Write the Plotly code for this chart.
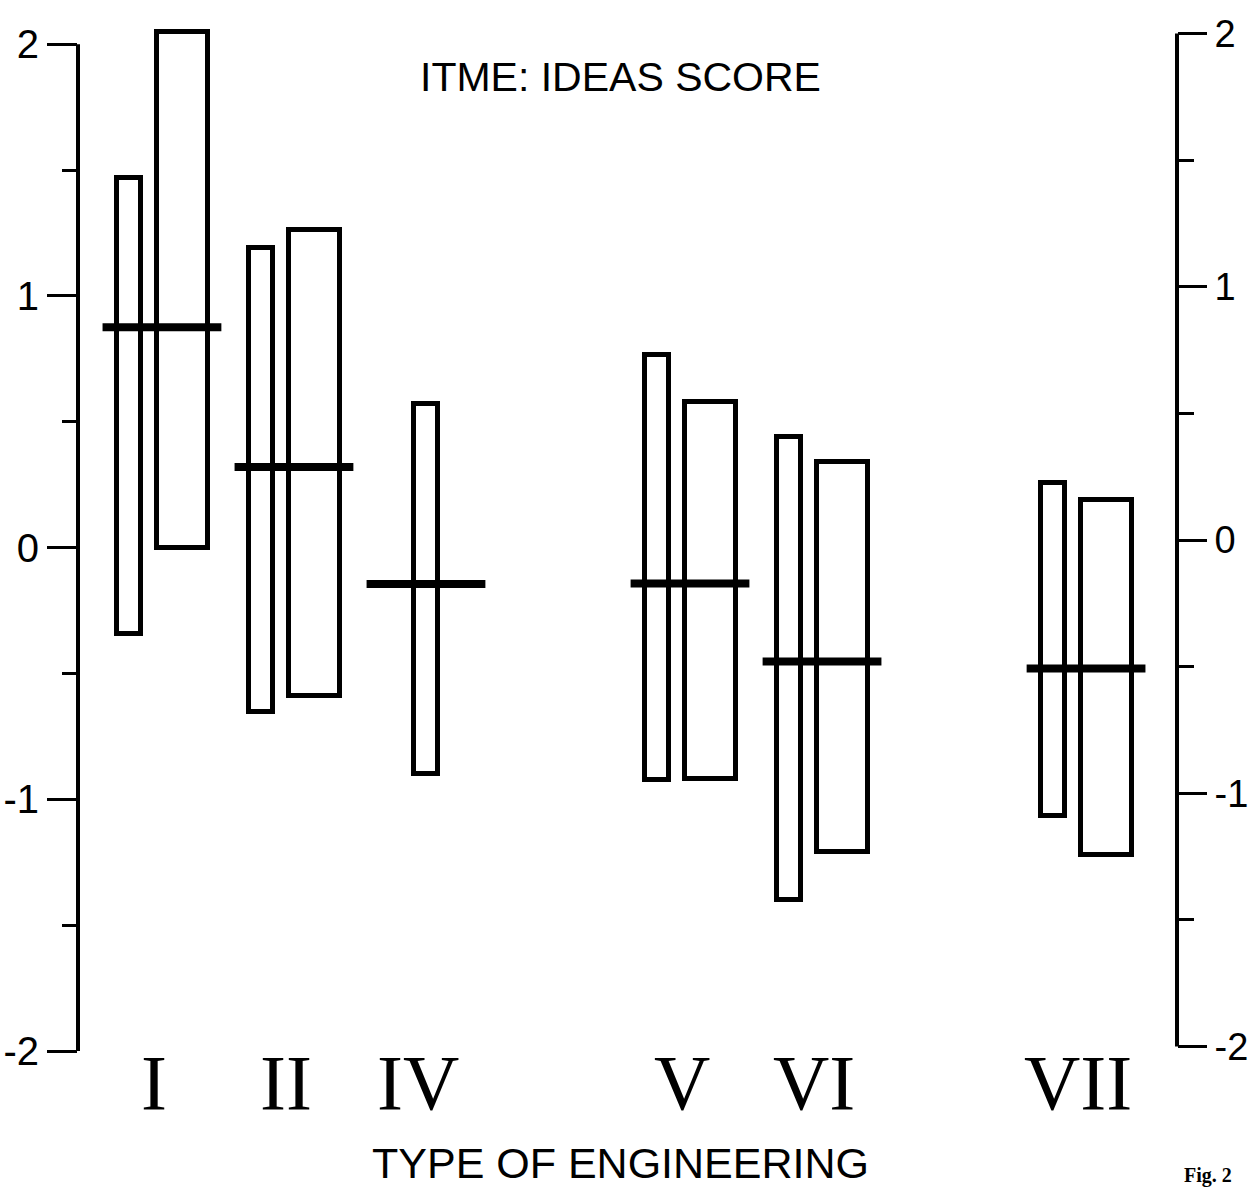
import plotly.graph_objects as go

# ---------------- data ----------------
groups = ["I", "II", "IV", "V", "VI", "VII"]
slots = [0, 1, 2, 4, 5, 7]  # position of each engineering type along the x axis

mean_score = [0.875, 0.32, -0.145, -0.143, -0.453, -0.48]

narrow_low = [-0.345, -0.655, -0.90, -0.925, -1.40, -1.065]
narrow_high = [1.47, 1.19, 0.57, 0.767, 0.44, 0.255]

wide_low = [0.0, -0.59, None, -0.92, -1.21, -1.22]
wide_high = [2.05, 1.26, None, 0.58, 0.34, 0.19]

tick_vals = [-2, -1, 0, 1, 2]
tick_text = ["-2", "-1", "0", "1", "2"]
minor_tick_vals = [-1.5, -0.5, 0.5, 1.5]

title_text = "ITME: IDEAS SCORE"
xaxis_title = "TYPE OF ENGINEERING"
fig_label = "Fig. 2"

# ---------------- styling ----------------
NARROW_W = 0.18
WIDE_W = 0.38
NARROW_OFF = -0.25
WIDE_OFF = 0.155
MEAN_HALF = 0.45
INK = "black"
SANS = "Liberation Sans, Arial, sans-serif"
SERIF = "Liberation Serif, Times New Roman, serif"

fig = go.Figure()

# narrow bars
nx, nb, nh = [], [], []
for s, lo, hi, wl in zip(slots, narrow_low, narrow_high, wide_low):
    off = NARROW_OFF if wl is not None else 0.0
    nx.append(s + off)
    nb.append(lo)
    nh.append(hi - lo)
fig.add_trace(go.Bar(
    x=nx, y=nh, base=nb, width=NARROW_W,
    marker=dict(color="white", line=dict(color=INK, width=5)),
    hoverinfo="skip", showlegend=False,
))

# wide bars
wx, wb, wh = [], [], []
for s, lo, hi in zip(slots, wide_low, wide_high):
    if lo is None:
        continue
    wx.append(s + WIDE_OFF)
    wb.append(lo)
    wh.append(hi - lo)
fig.add_trace(go.Bar(
    x=wx, y=wh, base=wb, width=WIDE_W,
    marker=dict(color="white", line=dict(color=INK, width=5)),
    hoverinfo="skip", showlegend=False,
))

# mean lines
mx, my = [], []
for s, m in zip(slots, mean_score):
    mx += [s - MEAN_HALF, s + MEAN_HALF, None]
    my += [m, m, None]
fig.add_trace(go.Scatter(
    x=mx, y=my, mode="lines", line=dict(color=INK, width=8),
    hoverinfo="skip", showlegend=False,
))

# invisible trace to anchor the right-hand scale
fig.add_trace(go.Scatter(
    x=[slots[0]] * len(tick_vals), y=tick_vals, yaxis="y2", mode="markers",
    marker=dict(opacity=0), hoverinfo="skip", showlegend=False,
))

# spines (left and right scale rulers from -2 to 2)
fig.add_shape(type="line", xref="paper", yref="y", x0=0, x1=0,
              y0=tick_vals[0], y1=tick_vals[-1], line=dict(color=INK, width=4))
fig.add_shape(type="line", xref="paper", yref="y2", x0=1, x1=1,
              y0=tick_vals[0], y1=tick_vals[-1], line=dict(color=INK, width=4))

# roman numeral category labels
for s, g in zip(slots, groups):
    fig.add_annotation(
        x=s, y=tick_vals[0], xref="x", yref="y", text=g, showarrow=False,
        xanchor="center", yanchor="middle", xshift=-8, yshift=-31,
        font=dict(family=SERIF, size=78, color=INK),
    )

fig.add_annotation(
    x=0.494, y=0.948, xref="paper", yref="paper", text=title_text,
    showarrow=False, xanchor="center", yanchor="middle",
    font=dict(family=SANS, size=41, color=INK),
)
fig.add_annotation(
    x=0.494, y=-0.109, xref="paper", yref="paper", text=xaxis_title,
    showarrow=False, xanchor="center", yanchor="middle",
    font=dict(family=SANS, size=43, color=INK),
)
fig.add_annotation(
    x=1.005, y=-0.121, xref="paper", yref="paper", text="<b>" + fig_label + "</b>",
    showarrow=False, xanchor="left", yanchor="middle",
    font=dict(family=SERIF, size=20, color=INK),
)

fig.update_layout(
    width=1252, height=1190,
    margin=dict(l=78, r=75, t=24, b=139, autoexpand=False),
    paper_bgcolor="white", plot_bgcolor="white",
    barmode="overlay", bargap=0,
    showlegend=False,
    xaxis=dict(range=[-0.636, 7.689], visible=False, showgrid=False,
               zeroline=False, automargin=False),
    yaxis=dict(
        range=[-2.0, 2.08], showgrid=False, zeroline=False, showline=False,
        automargin=False,
        tickmode="array", tickvals=tick_vals, ticktext=tick_text,
        ticks="outside", ticklen=30, tickwidth=3, tickcolor=INK,
        tickfont=dict(family=SANS, size=40, color=INK),
        minor=dict(tickmode="array", tickvals=minor_tick_vals, ticks="outside",
                   ticklen=15, tickwidth=3, tickcolor=INK, showgrid=False),
    ),
    yaxis2=dict(
        overlaying="y", side="right", range=[-2.018, 2.038],
        showgrid=False, zeroline=False, showline=False, automargin=False,
        tickmode="array", tickvals=tick_vals, ticktext=tick_text,
        ticks="outside", ticklen=29, tickwidth=3, tickcolor=INK,
        tickfont=dict(family=SANS, size=38, color=INK),
        minor=dict(tickmode="array", tickvals=minor_tick_vals, ticks="outside",
                   ticklen=16, tickwidth=3, tickcolor=INK, showgrid=False),
    ),
)

fig.write_html(
    "out.html",
    config={"displayModeBar": False},
    post_script="document.body.style.margin='0';document.body.style.overflow='hidden';",
)
